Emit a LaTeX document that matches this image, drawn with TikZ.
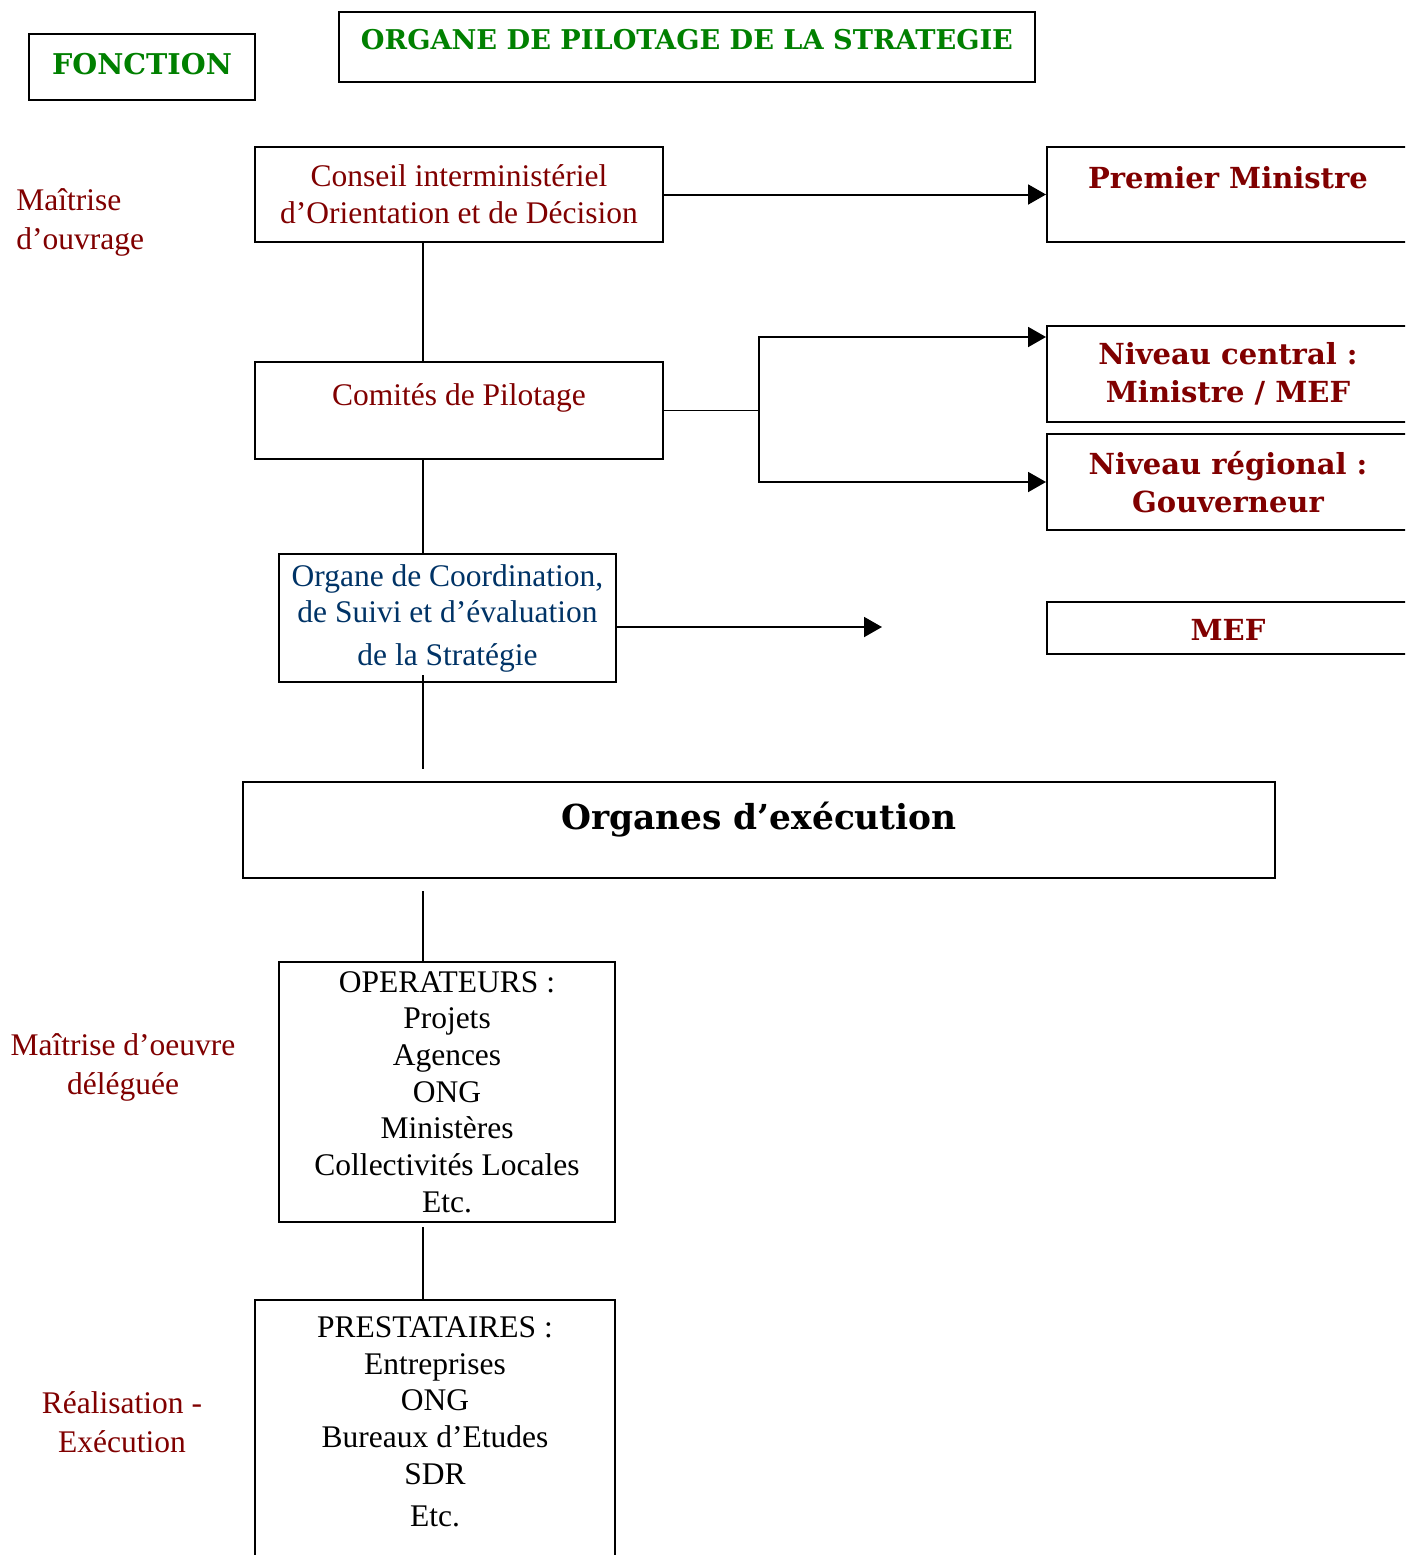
\documentclass[tikz,border=0pt]{standalone}
\usepackage{fontspec}
\setmainfont{Liberation Serif}
\newfontfamily\heavyserif{DejaVu Serif}
\usetikzlibrary{positioning, arrows.meta}
\definecolor{darkred}{RGB}{128,0,0}
\definecolor{darkgreen}{RGB}{0,128,0}
\definecolor{navy}{RGB}{0,51,102}
\newcommand{\regular}{\fontsize{15.75pt}{18.5pt}\selectfont}
\newcommand{\heavy}{\heavyserif\bfseries\fontsize{14.5pt}{19pt}\selectfont}
\tikzset{
    x=0.5pt, y=-0.5pt, % one unit is one pixel of the page, y runs downwards
    node distance=108pt, % distance between the centres of stacked boxes
    every node/.style={inner sep=0pt},
    box/.style={draw, line width=1pt, rectangle, align=center}, % every framed box
    greenbox/.style={box, text=darkgreen},
    redbox/.style={box, text=darkred, font=\regular},
    headbox/.style={box, text=darkred, font=\heavy, minimum width=181pt},
    arrowline/.style={-{Triangle[length=9pt, width=10pt]}, line width=1pt},
    link/.style={line width=0.9pt},
    }

\begin{document}
\begin{tikzpicture}[sidelabel/.style={text=darkred, font=\fontsize{15.75pt}{19.5pt}\selectfont, align=center}]
\useasboundingbox (0,0) rectangle (1405,1555);
\clip (0,0) rectangle (1405,1555);
\coordinate (spine) at (423,0);

% titles
\node[greenbox, font=\heavyserif\bfseries\fontsize{14.3pt}{18pt}\selectfont, minimum width=113pt, minimum height=33pt, text height=11pt, text depth=4pt] (fonction) at (142,67) {FONCTION};
\node[greenbox, font=\heavyserif\bfseries\fontsize{13.6pt}{18pt}\selectfont, minimum width=348pt, minimum height=35pt, text height=11pt, text depth=8.5pt] (pilotage) at (687,47) {ORGANE DE PILOTAGE DE LA STRATEGIE};

% left column
\node[sidelabel, anchor=west, align=left] (ouvrage) at (16,222) {Maîtrise\\d’ouvrage};
\node[sidelabel] (oeuvre) at (123,1067) {Maîtrise d’oeuvre\\déléguée};
\node[sidelabel] (realisation) at (122,1422) {Réalisation -\\Exécution};

% piloting chain
\node[redbox, minimum width=204pt, minimum height=47.5pt] (conseil) at (459,194.5) {Conseil interministériel\\d’Orientation et de Décision};
\node[redbox, below of=conseil, minimum width=204pt, minimum height=48.5pt, text height=11pt, text depth=16.5pt] (comites) {Comités de Pilotage};
\node[box, text=navy, font=\fontsize{15.75pt}{18pt}\selectfont, minimum width=168.5pt, minimum height=64pt] (coord) at (447.5,618) {Organe de Coordination,\\de Suivi et d’évaluation\\[3.5pt]de la Stratégie};
\node[box, font=\heavyserif\bfseries\fontsize{17.2pt}{20pt}\selectfont, minimum width=516pt, minimum height=48pt, text height=16pt, text depth=17pt] (exec) at (759,830) {Organes d’exécution};
\node[box, font=\fontsize{15.75pt}{18.35pt}\selectfont, minimum width=168pt, minimum height=130pt] (oper) at (447,1092) {OPERATEURS :\\Projets\\Agences\\ONG\\Ministères\\Collectivités Locales\\Etc.};
\node[box, font=\fontsize{15.75pt}{18.35pt}\selectfont, anchor=north, minimum width=180pt, minimum height=150pt] (prest) at (435,1299) {PRESTATAIRES :\\Entreprises\\ONG\\Bureaux d’Etudes\\SDR\\[3pt]Etc.\\[10pt]\mbox{}};

% right column
\node[headbox, minimum height=47.5pt, text height=12pt, text depth=18.5pt] (premier) at (1228,194.5) {Premier Ministre};
\node[headbox, minimum height=48pt] (central) at (1228,374) {Niveau central :\\Ministre / MEF};
\node[headbox, below of=central, node distance=54pt, minimum height=48pt] (regional) {Niveau régional :\\Gouverneur};
\node[headbox, minimum height=26pt, text height=12pt, text depth=0pt] (mef) at (1228,628) {MEF};

% connectors
\coordinate (fork) at (759,410.5);
\coordinate (mefend) at (882,627);
\draw[arrowline] (conseil.east) -- (premier.west);
\draw[link] (comites.east) -- (fork);
\draw[arrowline] (fork) |- ([yshift=-6pt]central.north west);
\draw[arrowline] (fork) |- (regional.west);
\draw[arrowline] ([yshift=-4.5pt]coord.east) -- (mefend);
\draw[link] (conseil.south -| spine) -- (comites.north -| spine);
\draw[link] (comites.south -| spine) -- (coord.north -| spine);
\draw[link, shorten <=-4pt, shorten >=6pt] (coord.south -| spine) -- (exec.north -| spine);
\draw[link, shorten <=6pt] (exec.south -| spine) -- (oper.north -| spine);
\draw[link, shorten <=2pt] (oper.south -| spine) -- (prest.north -| spine);
\end{tikzpicture}
\end{document}
